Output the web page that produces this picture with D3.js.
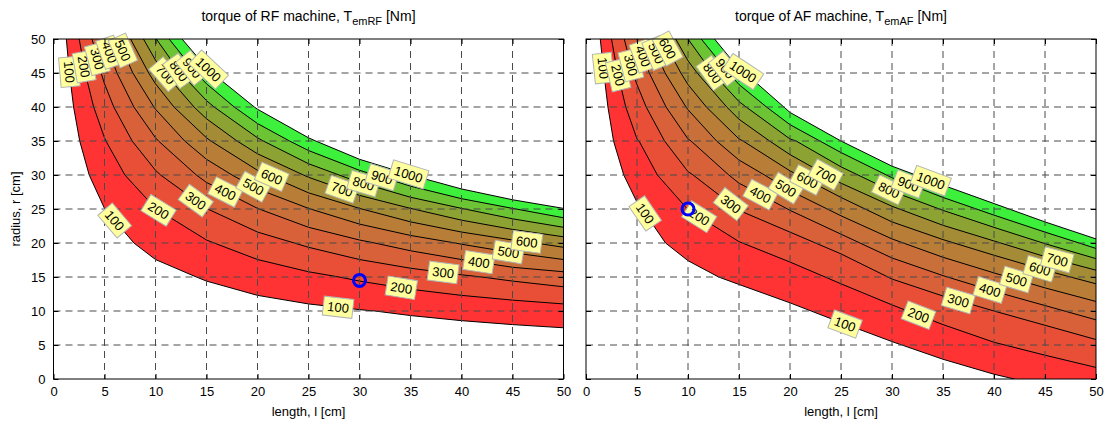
<!DOCTYPE html>
<html>
<head>
<meta charset="utf-8">
<script src="https://cdn.jsdelivr.net/npm/d3@7"></script>
<style>
body { margin: 0; background: #fff; }
svg text { font-family: Arial, "Liberation Sans", Helvetica, sans-serif; fill: #000; }
</style>
</head>
<body>
<svg id="chart" width="1108" height="423"></svg>
<script>
// contour levels [Nm]
var levels = [100, 200, 300, 400, 500, 600, 700, 800, 900, 1000];

// contour lines, [length l, radius r] in cm
var rfCurves = [
  [[1.26,50],[1.56,45],[1.97,40],[2.57,35],[3.5,30],[5,25.09],[5.04,25],[7.88,20],[10,17.57],[14,15],[15,14.4],[20,12.3],[25,11.04],[30,10.2],[31.5,10],[35,9.33],[40,8.58],[45,8],[50,7.53]],
  [[2.52,50],[3.11,45],[3.94,40],[5,35.47],[5.14,35],[7,30],[10,25.09],[10.08,25],[15,20.44],[15.75,20],[20,17.57],[25,15.77],[28,15],[30,14.4],[35,13.2],[40,12.3],[45,11.6],[50,11.04]],
  [[3.78,50],[4.67,45],[5,43.41],[5.91,40],[7.71,35],[10,30.69],[10.5,30],[15,25.09],[15.12,25],[20,21.61],[23.6,20],[25,19.37],[30,17.57],[35,16.29],[40,15.32],[42,15],[45,14.4],[50,13.56]],
  [[5.04,50],[6.22,45],[7.88,40],[10,35.47],[10.29,35],[14,30],[15,28.91],[20,25.09],[20.16,25],[25,22.31],[30,20.44],[31.5,20],[35,18.86],[40,17.57],[45,16.43],[50,15.77]],
  [[6.3,50],[7.78,45],[9.84,40],[10,39.67],[12.86,35],[15,32.31],[17.5,30],[20,27.95],[25,25.09],[25.2,25],[30,22.78],[35,21.11],[39.38,20],[40,19.82],[45,18.57],[50,17.57]],
  [[7.56,50],[9.33,45],[10,43.41],[11.81,40],[15,35.47],[15.43,35],[20,30.69],[21,30],[25,27.38],[30,25.09],[30.24,25],[35,23.11],[40,21.61],[45,20.44],[47.25,20],[50,19.37]],
  [[8.82,50],[10,46.89],[10.89,45],[13.78,40],[15,38.27],[18,35],[20,33.12],[24.5,30],[25,29.67],[30,27],[35,25.09],[35.28,25],[40,23.36],[45,22],[50,20.91]],
  [[10.08,50],[12.44,45],[15,40.94],[15.75,40],[20,35.47],[20.57,35],[25,31.66],[28,30],[30,28.91],[35,26.73],[40,25.09],[40.32,25],[45,23.56],[50,22.31]],
  [[11.34,50],[14,45],[15,43.41],[17.72,40],[20,37.57],[23.14,35],[25,33.6],[30,30.69],[31.5,30],[35,28.36],[40,26.52],[45,25.09],[45.36,25],[50,23.71]],
  [[12.6,50],[15,45.79],[15.56,45],[19.69,40],[20,39.67],[25,35.47],[25.71,35],[30,32.31],[35,30],[40,27.95],[45,26.36],[50,25.09]]
];

var afCurves = [
  [[1.4,50],[1.75,45],[2.15,40],[2.7,35],[3.7,30],[5,26],[5.5,25],[7.8,20],[10,17.4],[13,15],[15,13.9],[20,11.2],[25,8.3],[30,5.5],[35,2.9],[40,0.7],[42,0]],
  [[2.5,50],[3.1,45],[3.9,40],[5,35.3],[5.2,35],[7,30],[10,24.9],[15,20.2],[20,17.2],[25,14],[30,10.9],[35,8],[40,5.4],[45,3.5],[50,1.7]],
  [[3.75,50],[4.6,45],[5,43.3],[5.9,40],[7.7,35],[10,30.5],[10.5,30],[15,24.8],[20,21.6],[25,18.4],[30,14.7],[35,12.2],[40,10],[45,7.9],[50,5.8]],
  [[5,50],[6.2,45],[7.85,40],[10,35.3],[10.3,35],[14,30],[15,28.8],[20,24.8],[25,21.3],[30,17.8],[35,15.2],[40,12.9],[45,10.8],[50,8.7]],
  [[6.3,50],[7.75,45],[9.8,40],[10,39.6],[12.8,35],[15,32.2],[17.5,30],[20,27.7],[25,24],[30,20.6],[35,17.9],[40,15.6],[45,13.4],[50,11.4]],
  [[7.5,50],[9.3,45],[10,43.3],[11.8,40],[15,35.3],[15.4,35],[20,30.6],[25,26.7],[30,23.1],[35,20.5],[40,18.2],[45,16],[50,14]],
  [[8.8,50],[10,46.8],[10.9,45],[13.8,40],[15,38.2],[18,35],[20,33],[25,28.8],[30,25.4],[35,22.6],[40,20.3],[45,18],[50,16]],
  [[10,50],[12.4,45],[15,40.8],[15.7,40],[20,35.3],[20.6,35],[25,31.2],[30,27.6],[35,24.8],[40,22.3],[45,19.9],[50,17.7]],
  [[11.3,50],[14,45],[15,43.3],[17.7,40],[20,37.4],[25,33.3],[30,29.6],[35,26.7],[40,24.1],[45,21.6],[50,19.2]],
  [[12.6,50],[15,45.6],[15.6,45],[19.4,40],[20,39.2],[25,35],[30,31.3],[35,28.5],[40,25.8],[45,23.1],[50,20.6]]
];

// inline contour labels: [level, length l where the label sits]
var rfLabels = [
  [100,1.55],[200,3.0],[300,4.3],[400,5.5],[500,6.8],
  [700,11],[800,12.3],[900,13.6],[1000,15.2],
  [100,6.0],[200,10.3],[300,13.95],[400,16.85],[500,19.6],[600,21.4],
  [700,28.3],[800,30.4],[900,32.2],[1000,34.8],
  [100,27.9],[200,34.1],[300,38.2],[400,41.7],[500,44.6],[600,46.4]
];
var afLabels = [
  [100,1.7],[200,3.15],[300,4.4],[400,5.6],[500,6.9],[600,8.0],
  [800,12.4],[900,13.65],[1000,15.4],
  [100,5.8],[200,11.1],[300,14.2],[400,17.1],[500,19.6],[600,21.7],[700,23.5],
  [800,29.7],[900,31.6],[1000,33.8],
  [100,25.4],[200,32.6],[300,36.5],[400,39.6],[500,42.2],[600,44.5],[700,46.2]
];

// design points (blue circles)
var rfPoint = [30, 14.5];
var afPoint = [10, 25];

var ticks = [0, 5, 10, 15, 20, 25, 30, 35, 40, 45, 50];

var bandColors = ["#ff3333", "#e84f36", "#d8613a", "#c9703a", "#b87d37",
                  "#a48b35", "#8ca333", "#6cc334", "#3cf03c"];

var svg = d3.select("#chart");
var top0 = 39, bottom0 = 379;

function curveAt(c, l) {
  for (var i = 0; i < c.length - 1; i++) {
    if (l >= c[i][0] && l <= c[i+1][0]) {
      var t = (l - c[i][0]) / (c[i+1][0] - c[i][0]);
      return {r: c[i][1] + t * (c[i+1][1] - c[i][1]), a: c[i], b: c[i+1]};
    }
  }
  return {r: c[c.length-1][1], a: c[c.length-2], b: c[c.length-1]};
}

function drawPanel(id, left, right, title, sub, curves, labels, point, showY) {
  var x = d3.scaleLinear().domain([0, 50]).range([left, right]);
  var y = d3.scaleLinear().domain([0, 50]).range([bottom0, top0]);
  var g = svg.append("g");

  g.append("clipPath").attr("id", "clip" + id)
    .append("rect").attr("x", left).attr("y", top0)
    .attr("width", right - left).attr("height", bottom0 - top0);

  var area = g.append("g").attr("clip-path", "url(#clip" + id + ")");

  // region above each level: follow curve then go round the box
  function regionPath(c) {
    var pts = c.map(function(d) { return [x(d[0]), y(d[1])]; });
    var last = c[c.length - 1];
    if (last[1] <= 0) pts.push([x(50), y(0)]);
    pts.push([x(50), y(50)]);
    return "M" + pts.join("L") + "Z";
  }

  curves.forEach(function(c, i) {
    area.append("path")
      .attr("d", regionPath(c))
      .attr("fill", i < bandColors.length ? bandColors[i] : "#fff");
  });

  var line = d3.line().x(function(d) { return x(d[0]); }).y(function(d) { return y(d[1]); });
  curves.forEach(function(c) {
    area.append("path").attr("d", line(c))
      .attr("fill", "none").attr("stroke", "#000").attr("stroke-width", 1);
  });

  // dashed grid
  var grid = g.append("g").attr("stroke", "#4a4a4a").attr("stroke-width", 1)
    .attr("stroke-dasharray", "7,5");
  ticks.slice(1, -1).forEach(function(t) {
    grid.append("line").attr("x1", x(t)).attr("x2", x(t))
      .attr("y1", top0).attr("y2", bottom0);
    grid.append("line").attr("x1", left).attr("x2", right)
      .attr("y1", y(t)).attr("y2", y(t));
  });

  // inline labels
  var lab = g.append("g");
  labels.forEach(function(d) {
    var c = curves[levels.indexOf(d[0])];
    var p = curveAt(c, d[1]);
    var ang = Math.atan2(y(p.b[1]) - y(p.a[1]), x(p.b[0]) - x(p.a[0])) * 180 / Math.PI;
    var lg = lab.append("g")
      .attr("transform", "translate(" + x(d[1]) + "," + y(p.r) + ") rotate(" + ang + ")");
    var rect = lg.append("rect");
    var txt = lg.append("text").attr("text-anchor", "middle").attr("dy", "0.36em")
      .attr("font-size", 13).text(d[0]);
    var w = txt.node().getComputedTextLength();
    rect.attr("x", -w / 2 - 4).attr("y", -9.5).attr("width", w + 8).attr("height", 19)
      .attr("fill", "#ffff9e").attr("stroke", "#b4b4b4").attr("stroke-width", 1);
  });

  // design point, above the labels
  g.append("circle").attr("cx", x(point[0])).attr("cy", y(point[1]))
    .attr("r", 6).attr("fill", "none").attr("stroke", "#0000ff").attr("stroke-width", 3);

  // frame and ticks
  g.append("rect").attr("x", left).attr("y", top0)
    .attr("width", right - left).attr("height", bottom0 - top0)
    .attr("fill", "none").attr("stroke", "#000").attr("stroke-width", 1);

  g.append("g").attr("transform", "translate(0," + bottom0 + ")")
    .call(d3.axisBottom(x).tickValues(ticks).tickSize(-5).tickPadding(8))
    .call(function(a) { a.select(".domain").remove(); });
  g.append("g").attr("transform", "translate(0," + top0 + ")")
    .call(d3.axisTop(x).tickValues(ticks).tickSize(-5).tickFormat(""))
    .call(function(a) { a.select(".domain").remove(); });
  g.append("g").attr("transform", "translate(" + left + ",0)")
    .call(d3.axisLeft(y).tickValues(ticks).tickSize(-5).tickPadding(8)
      .tickFormat(showY ? d3.format("d") : ""))
    .call(function(a) { a.select(".domain").remove(); });
  g.append("g").attr("transform", "translate(" + right + ",0)")
    .call(d3.axisRight(y).tickValues(ticks).tickSize(-5).tickFormat(""))
    .call(function(a) { a.select(".domain").remove(); });
  g.selectAll(".tick line").attr("stroke", "#000");
  g.selectAll(".tick text").attr("font-size", 13).attr("fill", "#000")
    .style("font-family", "Arial, 'Liberation Sans', sans-serif");

  // titles
  var t = g.append("text").attr("x", (left + right) / 2).attr("y", 21)
    .attr("text-anchor", "middle").attr("font-size", 14);
  t.append("tspan").text(title);
  t.append("tspan").attr("font-size", 11).attr("dy", 4).text(sub);
  t.append("tspan").attr("dy", -4).text(" [Nm]");

  g.append("text").attr("x", (left + right) / 2).attr("y", 416)
    .attr("text-anchor", "middle").attr("font-size", 13).text("length, l [cm]");
  if (showY) {
    g.append("text").attr("transform", "translate(20," + ((top0 + bottom0) / 2) + ") rotate(-90)")
      .attr("text-anchor", "middle").attr("font-size", 13).text("radius, r [cm]");
  }
}

drawPanel("rf", 53.5, 563.5, "torque of RF machine, T", "emRF", rfCurves, rfLabels, rfPoint, true);
drawPanel("af", 586, 1096, "torque of AF machine, T", "emAF", afCurves, afLabels, afPoint, false);
</script>
</body>
</html>
